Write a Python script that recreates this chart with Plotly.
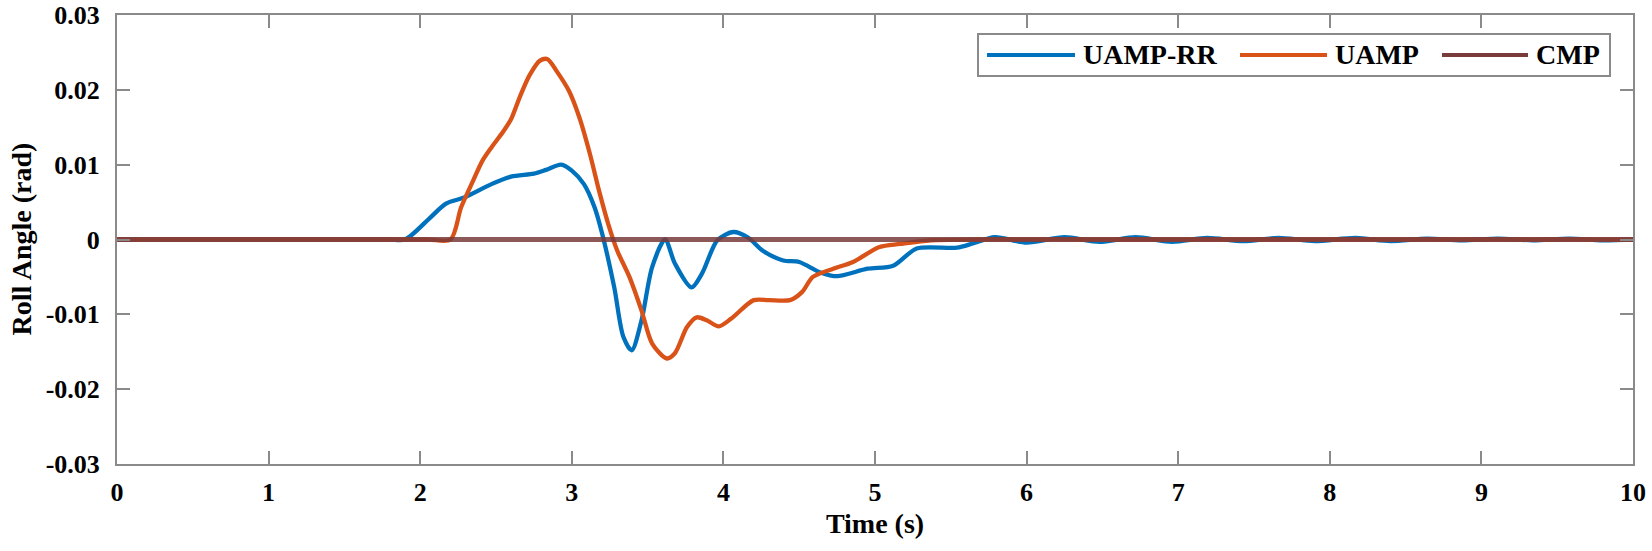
import plotly.graph_objects as go

# =========================
# Data
# =========================
# UAMP-RR (blue)
t_rr = [0, 1.0, 1.6, 1.8, 1.9, 2.07, 2.17, 2.29, 2.47, 2.6, 2.75, 2.83, 2.93, 3.0, 3.08,
        3.15, 3.2, 3.28, 3.34, 3.395, 3.46, 3.53, 3.615, 3.68, 3.79, 3.86, 3.96, 4.065,
        4.16, 4.26, 4.395, 4.5, 4.64, 4.75, 4.95, 5.12, 5.275, 5.54, 5.65, 5.79, 6.0,
        6.25, 6.48, 6.72, 6.96, 7.19, 7.43, 7.66, 7.9, 8.17, 8.4, 8.64, 8.87, 9.11,
        9.34, 9.58, 9.8, 10]
v_rr = [0, 0, 0, 0, 0, 0.0030, 0.0048, 0.0056, 0.0074, 0.0084, 0.0088, 0.0093, 0.0100,
        0.0092, 0.0074, 0.0043, 0.0008, -0.0064, -0.0130, -0.0148, -0.0108, -0.0037,
        0.0, -0.0032, -0.0064, -0.0045, -0.0001, 0.0010, 0.0003, -0.0015, -0.0028,
        -0.0030, -0.0044, -0.0049, -0.0039, -0.0035, -0.0012, -0.0011, -0.0005, 0.0003,
        -0.0004, 0.0003, -0.0003, 0.0003, -0.0003, 0.0002, -0.0002, 0.0002, -0.0002,
        0.0002, -0.0002, 0.0001, -0.0001, 0.0001, -0.0001, 0.0001, -0.0001, 0]

# UAMP (orange)
t_u = [0, 1.0, 1.7, 2.05, 2.2, 2.27, 2.35, 2.41, 2.47, 2.55, 2.6, 2.66, 2.72, 2.79, 2.84,
       2.9, 2.98, 3.05, 3.12, 3.18, 3.24, 3.3, 3.38, 3.46, 3.53, 3.626, 3.68, 3.76,
       3.824, 3.89, 3.97, 4.05, 4.2, 4.3, 4.44, 4.52, 4.59, 4.725, 4.855, 5.03, 5.165,
       5.37, 5.68, 6.5, 8.0, 10]
v_u = [0, 0, 0, 0, 0, 0.0043, 0.0079, 0.0105, 0.0123, 0.0145, 0.0161, 0.0192, 0.0219,
       0.0239, 0.0241, 0.0225, 0.0199, 0.0163, 0.0114, 0.0065, 0.0021, -0.0015, -0.0050,
       -0.0095, -0.0139, -0.0159, -0.0152, -0.0117, -0.0104, -0.0108, -0.0116, -0.0106,
       -0.0081, -0.0081, -0.0081, -0.0070, -0.0050, -0.0039, -0.0030, -0.0010, -0.0006,
       -0.0001, 0, 0, 0, 0]

# CMP (brown)
t_cmp = [0, 10]
v_cmp = [0, 0]

x_ticks = [0, 1, 2, 3, 4, 5, 6, 7, 8, 9, 10]
y_ticks = [0.03, 0.02, 0.01, 0, -0.01, -0.02, -0.03]
y_ticklabels = ["0.03", "0.02", "0.01", "0", "-0.01", "-0.02", "-0.03"]

names = ["UAMP-RR", "UAMP", "CMP"]
colors = ["#0072BD", "#D95319", "#7A3B3B"]

# =========================
# Layout config (pixels)
# =========================
W, H = 1652, 551
L, R, T, B = 117, 19, 15, 87
PW, PH = W - L - R, H - T - B
AXIS_GRAY = "#8a8a8a"
FONT = "Liberation Serif"


def px_x(x):
    return (x - L) / PW


def px_y(y):
    return (H - B - y) / PH


# =========================
# Plot
# =========================
fig = go.Figure()
series = [(t_rr, v_rr, 4.3), (t_u, v_u, 4.3), (t_cmp, v_cmp, 5)]
for (t, v, w), name, c in zip(series, names, colors):
    fig.add_trace(go.Scatter(
        x=t, y=v, mode="lines", name=name,
        line=dict(color=c, width=w, shape="spline", smoothing=0.8),
        opacity=0.85 if name == "CMP" else 1.0,
        showlegend=False,
    ))

axis_common = dict(
    showline=True, linecolor=AXIS_GRAY, linewidth=2, mirror="ticks",
    ticks="inside", ticklen=13, tickwidth=1.5, tickcolor=AXIS_GRAY,
    showgrid=False, zeroline=False, automargin=False, ticklabeloverflow="allow",
    tickfont=dict(family=FONT, size=26, color="black", weight="bold"),
)

fig.update_layout(
    width=W, height=H,
    margin=dict(l=L, r=R, t=T, b=B),
    paper_bgcolor="white", plot_bgcolor="white",
    xaxis=dict(
        range=[0, 10], tickvals=x_ticks, ticklabelstandoff=4,
        title=dict(text="Time (s)", standoff=7,
                   font=dict(family=FONT, size=28, color="black", weight="bold")),
        **axis_common,
    ),
    yaxis=dict(
        range=[-0.03, 0.03], tickvals=y_ticks, ticktext=y_ticklabels,
        ticklabelstandoff=10,
        **axis_common,
    ),
)

# y-axis title placed directly, close to the left edge as in the original
fig.add_annotation(xref="paper", yref="paper", x=px_x(21), y=0.5,
                   text="Roll Angle (rad)", textangle=-90, showarrow=False,
                   xanchor="center", yanchor="middle",
                   font=dict(family=FONT, size=28, color="black", weight="bold"))

# Legend box drawn by hand so the line samples match the original length
box_x0, box_x1, box_y0, box_y1 = 978, 1610, 34, 76
fig.add_shape(type="rect", xref="paper", yref="paper",
              x0=px_x(box_x0), x1=px_x(box_x1), y0=px_y(box_y1), y1=px_y(box_y0),
              line=dict(color=AXIS_GRAY, width=2), fillcolor="white", layer="above")
ly = (box_y0 + box_y1) / 2
legend_items = [(987, 1075, 1081), (1240, 1327, 1333), (1442, 1528, 1534)]
for (s0, s1, tx), name, c in zip(legend_items, names, colors):
    fig.add_shape(type="line", xref="paper", yref="paper",
                  x0=px_x(s0), x1=px_x(s1), y0=px_y(ly), y1=px_y(ly),
                  line=dict(color=c, width=4), layer="above")
    fig.add_annotation(xref="paper", yref="paper", x=px_x(tx), y=px_y(ly),
                       text=name, showarrow=False, xanchor="left", yanchor="middle",
                       font=dict(family=FONT, size=28, color="black", weight="bold"))

# the default page body has an 8px margin; drop it so the figure sits at the corner
fig.write_html("out.html", config={"displayModeBar": False},
               post_script="document.body.style.margin = '0px';")
